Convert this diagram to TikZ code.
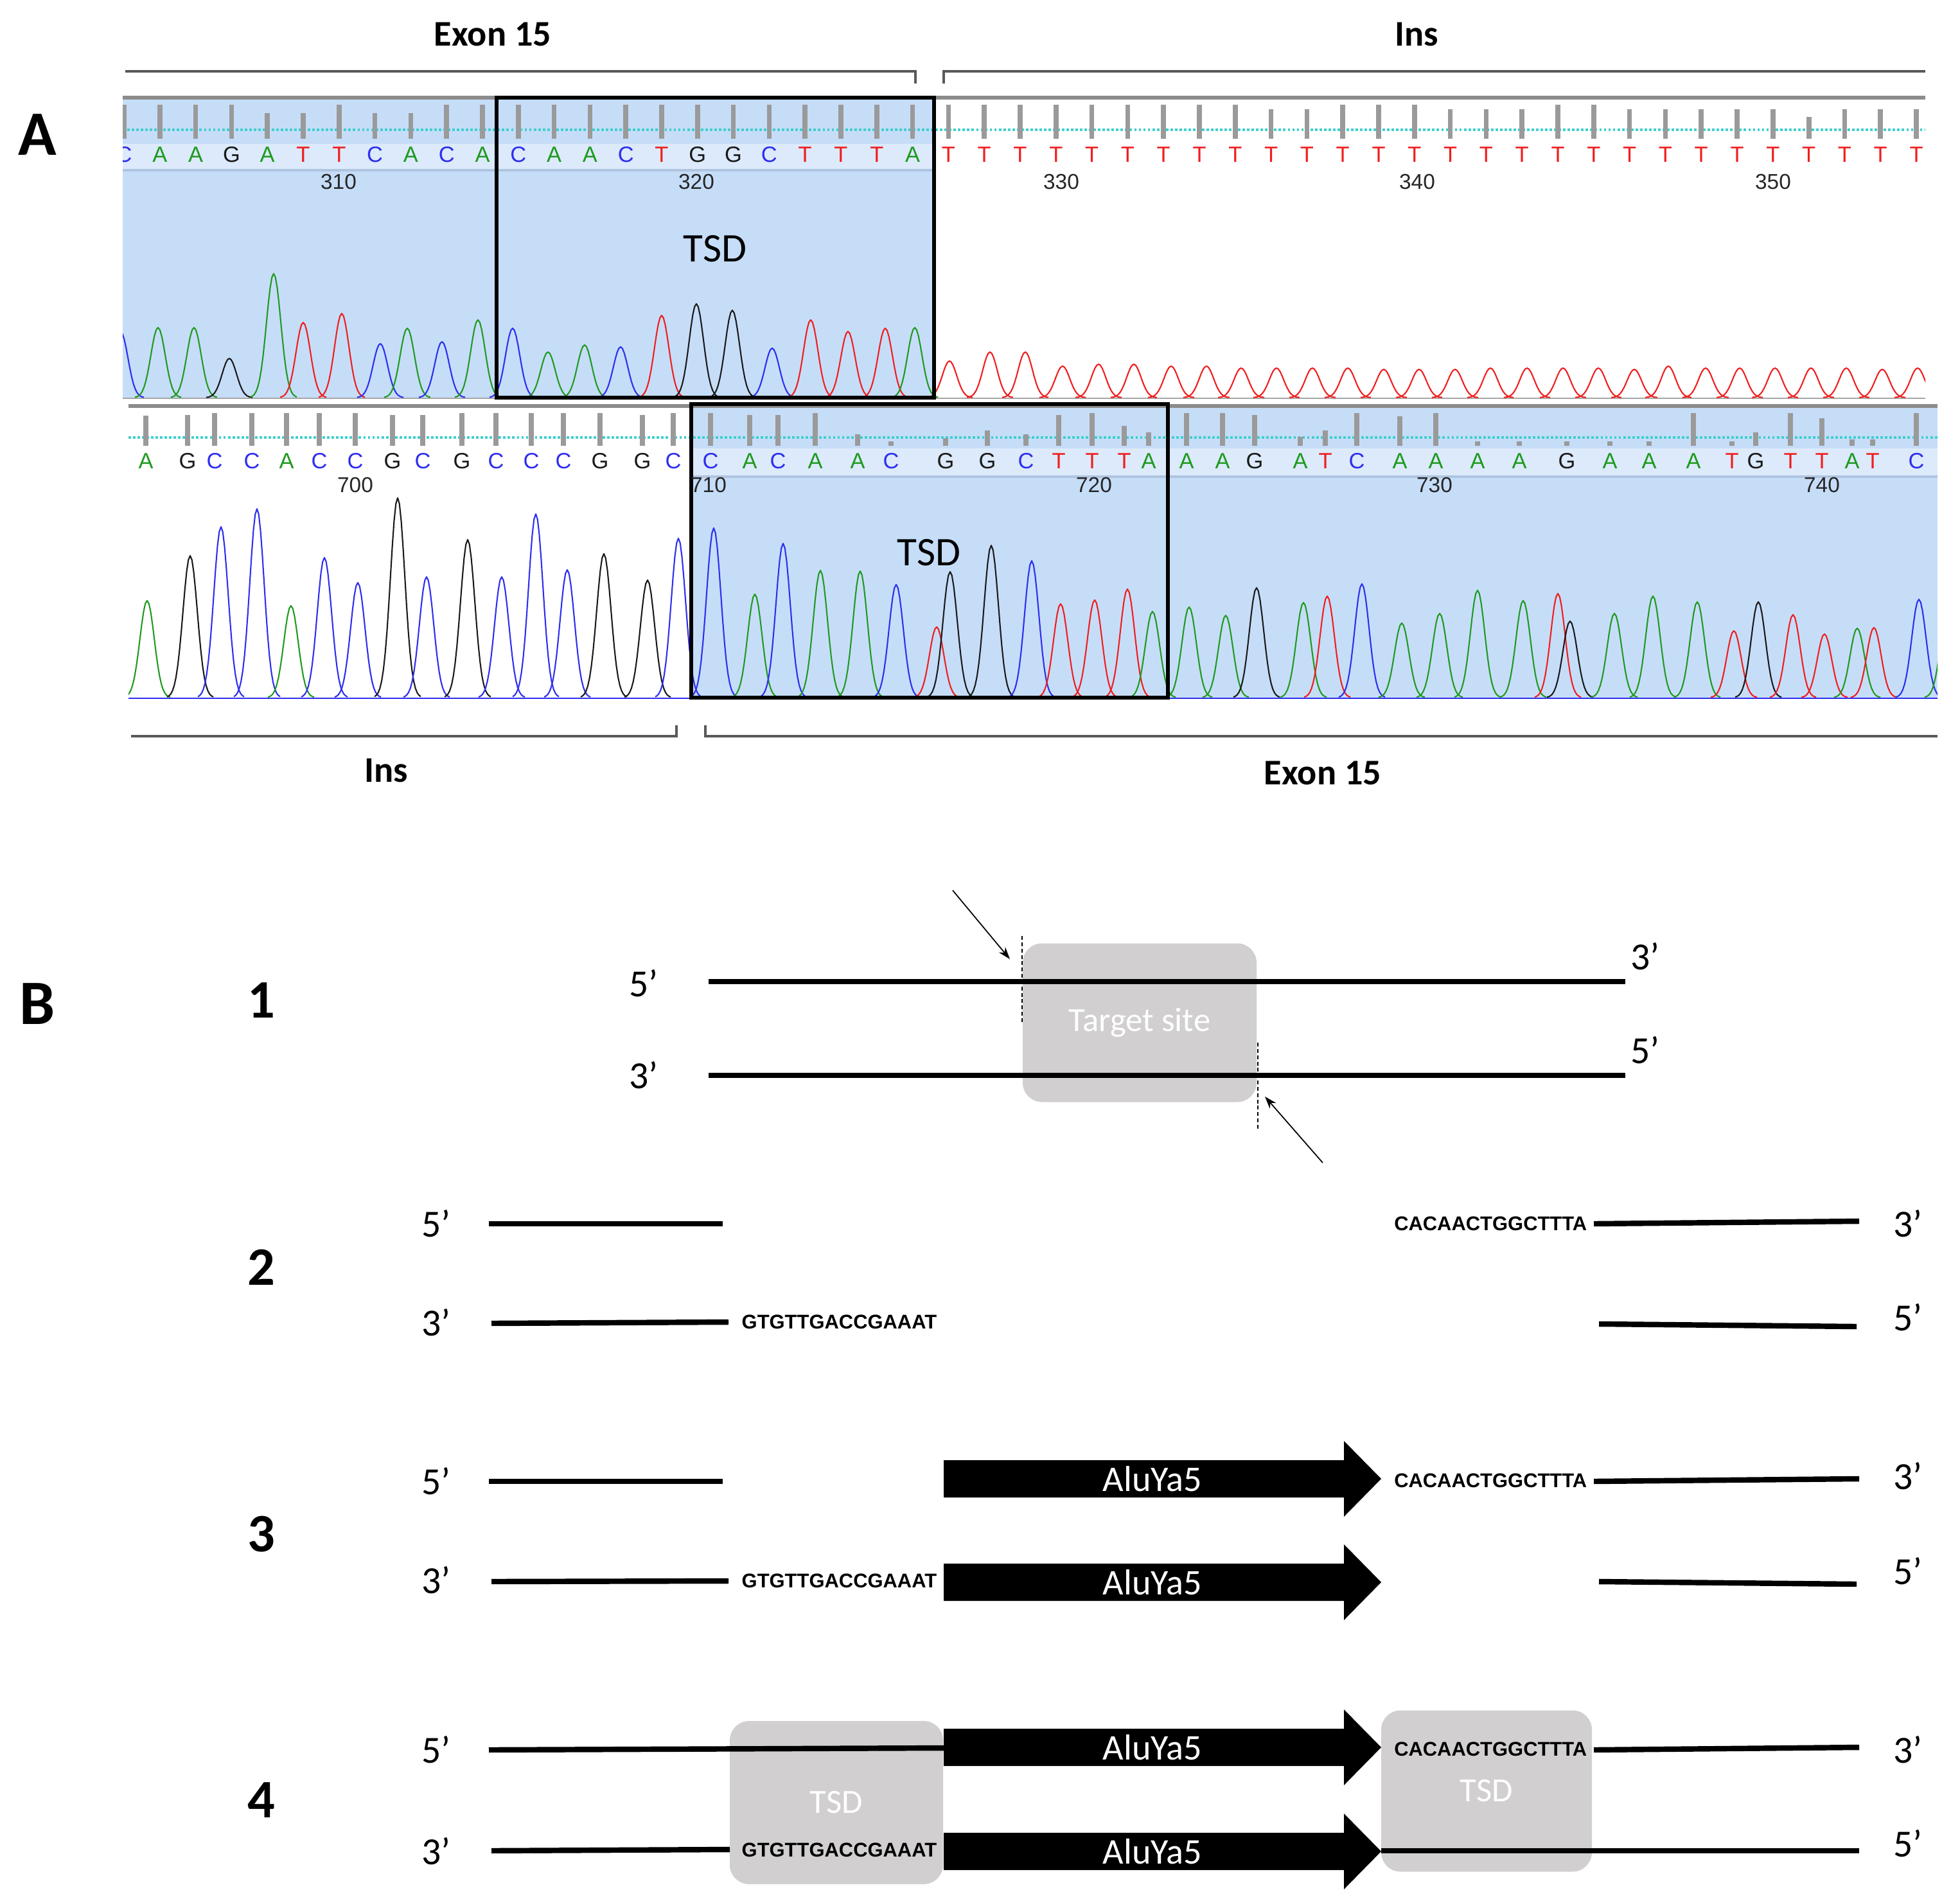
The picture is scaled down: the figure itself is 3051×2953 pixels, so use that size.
\documentclass[tikz,border=0pt]{standalone}
\usepackage{fontspec}
\setmainfont{Carlito}
\newfontfamily\seqfont{Liberation Sans}
\usetikzlibrary{arrows.meta}

\definecolor{baseA}{HTML}{1F9A1F}
\definecolor{baseC}{HTML}{2E2EF0}
\definecolor{baseG}{HTML}{1A1A1A}
\definecolor{baseT}{HTML}{F01E1E}
\definecolor{selblue}{HTML}{C6DDF8}
\definecolor{bandblue}{HTML}{DCEAFB}
\definecolor{bandedgec}{HTML}{AFC4E0}
\definecolor{barGray}{HTML}{9A9A9A}
\definecolor{dotcyan}{HTML}{3FCFCF}
\definecolor{hdrGray}{HTML}{8C8C8C}
\definecolor{boxgray}{HTML}{D1CFD0}

% one gaussian peak: base, centre x, top y, baseline y, 2 sigma^2
\newcommand{\peak}[5]{\draw[trace,draw=base#1] plot[domain=#2-36:#2+36,samples=27] (\x,{#4-(#4-#3)*exp(-((\x-#2)^2)/#5)});}
% AluYa5 block arrow centred on y
\newcommand{\aluarrow}[2]{%
  \fill (1469,{#1-29}) -- (2092,{#1-29}) -- (2092,{#1-59}) -- (2150,#1) -- (2092,{#1+59}) -- (2092,{#1+29}) -- (1469,{#1+29}) -- cycle;
  \node[alu] (#2) at (1794,#1) {AluYa5};}

\tikzset{
  trace/.style={line width=0.6pt, line join=round},
  bar/.style={draw=barGray, line width=2.2pt},
  dotline/.style={draw=dotcyan, line width=1.1pt, dash pattern=on 1.1pt off 0.9pt},
  hdr/.style={draw=hdrGray, line width=1.7pt},
  bandedge/.style={draw=bandedgec, line width=1.4pt},
  call/.style={font=\seqfont\fontsize{9.8}{10}\selectfont, inner sep=0pt},
  posnum/.style={font=\seqfont\fontsize{9.5}{10}\selectfont, text=black!85, inner sep=0pt},
  tsdframe/.style={draw=black, line width=1.5pt},
  tsdtext/.style={font=\fontsize{18}{20}\selectfont},
  region/.style={font=\fontsize{16}{18}\selectfont\bfseries},
  brace/.style={draw=black!65, line width=0.9pt},
  panel/.style={font=\fontsize{28}{30}\selectfont\bfseries},
  stageno/.style={font=\fontsize{24}{26}\selectfont\bfseries},
  endmark/.style={font=\fontsize{17}{19}\selectfont},
  strand/.style={line width=2.4pt},
  seq/.style={font=\seqfont\fontsize{8.8}{10}\selectfont\bfseries, inner sep=0pt},
  graybox/.style={fill=boxgray, rounded corners=3mm, text=white, font=\fontsize{15}{17}\selectfont},
  alu/.style={text=white, font=\fontsize{16}{18}\selectfont},
  cut/.style={dash pattern=on 1.7pt off 1.1pt, line width=0.8pt},
  pointer/.style={-{Stealth[length=1.9mm,width=1.3mm]}, line width=0.5pt}
}

\begin{document}
\begin{tikzpicture}[x=0.1mm,y=-0.1mm]
  \useasboundingbox (0,0) rectangle (3051,2953);
  %%%%% PANEL A %%%%%

  \node[panel] (pA) at (58,210) {A};
  \node[region] (exTop) at (767,53) {Exon 15};
  \node[region] (insTop) at (2205,53) {Ins};
  \draw[brace] (195,111) -- (1425,111) -- (1425,130);
  \draw[brace] (1469,130) -- (1469,111) -- (2997,111);

  % upper trace
  \fill[selblue] (191,155) rectangle (1456,619);
  \fill[bandblue] (191,224) rectangle (1456,263);
  \draw[bandedge] (191,265) -- (1456,265);
  \draw[dotline] (191,202) -- (2997,202);
  \begin{scope}
    \clip (191,140) rectangle (2997,625);
    \foreach \lb/\lh [count=\i from 0] in {C/163,A/163,A/163,G/163,A/176,T/176,T/163,C/176,A/176,C/163,A/163,
        C/163,A/163,A/163,C/163,T/163,G/163,G/163,C/163,T/163,T/163,T/163,A/163,
        T/163,T/163,T/163,T/163,T/163,T/163,T/163,T/163,T/163,T/170,T/170,T/163,T/163,T/163,
        T/170,T/170,T/170,T/163,T/163,T/170,T/170,T/170,T/170,T/170,T/182,T/170,T/170,T/170}{
      \draw[bar] ({193+55.8*\i},216) -- ({193+55.8*\i},\lh);
      \node[call,text=base\lb] (ta\i) at ({193+55.8*\i},241) {\lb};
    }
    \draw[black!35, line width=0.6pt] (191,620) -- (2997,620);
    \foreach \pc/\px/\py in {C/188/517,A/246/510,A/302/510,G/357/558,A/426/426,T/472/502,T/532/488,C/592/535,
        A/634/511,C/688/532,A/744/498,C/798/511,A/853/548,A/910/537,C/966/540,T/1030/491,G/1084/473,
        G/1140/483,C/1202/542,T/1262/498,T/1320/516,T/1378/511,A/1424/510,
        T/1478/562,T/1541/548,T/1596/548,T/1654/570,T/1710/567,T/1765/567,T/1823/570,T/1878/570,
        T/1932/573,T/1987/573,T/2043/573,T/2098/573,T/2154/575,T/2209/575,T/2265/575,T/2320/573,
        T/2377/573,T/2433/573,T/2488/573,T/2544/575,T/2597/570,T/2655/573,T/2708/573,T/2763/573,
        T/2819/573,T/2874/573,T/2930/575,T/2985/573}{
      \peak{\pc}{\px}{\py}{619}{250}
    }
  \end{scope}
  \draw[hdr] (191,152) -- (2997,152);
  \draw[tsdframe] (773,152) rectangle (1454,619);
  \node[tsdtext] (tsdUp) at (1113,387) {TSD};
  \node[posnum] (n310) at (527,283) {310};
  \node[posnum] (n320) at (1084,283) {320};
  \node[posnum] (n330) at (1652,283) {330};
  \node[posnum] (n340) at (2206,283) {340};
  \node[posnum] (n350) at (2760,283) {350};

  % lower trace
  \fill[selblue] (1076,634) rectangle (3016,1088);
  \fill[bandblue] (1076,698) rectangle (3016,740);
  \draw[bandedge] (1076,742) -- (3016,742);
  \draw[dotline] (200,681) -- (3016,681);
  \begin{scope}
    \clip (200,628) rectangle (3016,1092);
    \foreach \lx/\lb/\lh [count=\i] in {227/A/647,292/G/646,334/C/643,392/C/643,446/A/643,497/C/643,553/C/643,
        611/G/646,658/C/646,719/G/643,772/C/643,827/C/643,877/C/643,934/G/643,1000/G/646,1048/C/643,
        1106/C/643,1167/A/646,1211/C/646,1269/A/643,1335/A/676,1387/C/687,1472/G/682,1537/G/670,
        1597/C/676,1648/T/646,1700/T/643,1750/T/663,1788/A/673,1847/A/643,1903/A/643,1953/G/646,
        2024/A/680,2063/T/670,2112/C/643,2179/A/648,2235/A/643,2300/A/687,2365/A/687,2439/G/687,
        2506/A/687,2567/A/687,2636/A/643,2696/T/687,2733/G/673,2787/T/643,2836/T/651,2883/A/684,
        2915/T/684,2983/C/643}{
      \draw[bar] (\lx,694) -- (\lx,\lh);
      \node[call,text=base\lb] (lb\i) at (\lx,718) {\lb};
    }
    \draw[baseC, line width=0.8pt] (200,1087) -- (3016,1087);
    \foreach \pc/\px/\py in {A/229/935,G/296/865,C/344/820,C/400/792,A/453/943,C/505/868,C/557/907,
        G/619/775,C/664/898,G/728/840,C/781/898,C/834/800,C/883/887,G/940/862,G/1008/903,C/1056/838,
        C/1111/822,A/1175/925,C/1219/846,A/1277/888,A/1339/889,C/1395/910,T/1458/976,G/1479/890,
        G/1543/849,C/1606/873,T/1651/940,T/1704/934,T/1755/917,A/1794/952,A/1851/945,A/1908/958,
        G/1956/915,A/2029/938,T/2066/928,C/2120/909,A/2182/970,A/2241/955,A/2300/919,A/2371/935,
        T/2425/924,G/2444/967,A/2513/955,A/2573/928,A/2642/937,T/2699/982,G/2737/937,T/2791/957,
        T/2840/987,A/2891/978,T/2917/977,C/2987/933,A/3032/950}{
      \peak{\pc}{\px}{\py}{1086}{250}
    }
  \end{scope}
  \draw[hdr] (200,632) -- (3016,632);
  \draw[tsdframe] (1076,629) rectangle (1818,1086);
  \node[tsdtext] (tsdLow) at (1446,860) {TSD};
  \node[posnum] (n700) at (553,755) {700};
  \node[posnum] (n710) at (1103,755) {710};
  \node[posnum] (n720) at (1703,755) {720};
  \node[posnum] (n730) at (2233,755) {730};
  \node[posnum] (n740) at (2836,755) {740};

  \draw[brace] (204,1146) -- (1053,1146) -- (1053,1129);
  \draw[brace] (1098,1129) -- (1098,1146) -- (3016,1146);
  \node[region] (insLow) at (601,1199) {Ins};
  \node[region] (exLow) at (2059,1203) {Exon 15};

  %%%%% PANEL B %%%%%

  \node[panel] (pB) at (58,1563) {B};

  % 1: target site
  \node[stageno] (st1) at (407,1557) {1};
  \node[graybox, minimum width=36.4mm, minimum height=24.7mm] (target) at (1774,1592) {Target site};
  \draw[strand] (1103,1528) -- (2530,1528);
  \draw[strand] (1103,1674) -- (2530,1674);
  \node[endmark] (r1a) at (1002,1531) {5’};
  \node[endmark] (r1b) at (1002,1674) {3’};
  \node[endmark] (r1c) at (2561,1489) {3’};
  \node[endmark] (r1d) at (2561,1635) {5’};
  \draw[cut] (1591,1457) -- (1591,1593);
  \draw[cut] (1958,1623) -- (1958,1757);
  \coordinate (nickTop) at (1572,1493);
  \coordinate (nickBot) at (1969,1707);
  \draw[pointer] (1483,1386) -- (nickTop);
  \draw[pointer] (2059,1810) -- (nickBot);

  % 2: staggered cut
  \node[stageno] (st2) at (407,1973) {2};
  \node[endmark] (r2a) at (679,1905) {5’};
  \node[endmark] (r2b) at (679,2059) {3’};
  \node[endmark] (r2c) at (2970,1905) {3’};
  \node[endmark] (r2d) at (2970,2051) {5’};
  \node[seq, anchor=east] (s2top) at (2471,1905) {CACAACTGGCTTTA};
  \node[seq, anchor=west] (s2bot) at (1154,2058) {GTGTTGACCGAAAT};
  \draw[strand] (761,1905) -- (1125,1905);
  \draw[strand] (765,2060) -- (1134,2058);
  \draw[strand] (2481,1905) -- (2894,1901);
  \draw[strand] (2489,2061) -- (2890,2065);

  % 3: insertion
  \node[stageno] (st3) at (407,2388) {3};
  \node[endmark] (r3a) at (679,2306) {5’};
  \node[endmark] (r3b) at (679,2460) {3’};
  \node[endmark] (r3c) at (2970,2298) {3’};
  \node[endmark] (r3d) at (2970,2446) {5’};
  \draw[strand] (761,2306) -- (1125,2306);
  \draw[strand] (765,2462) -- (1134,2461);
  \node[seq, anchor=west] (s3bot) at (1154,2461) {GTGTTGACCGAAAT};
  \aluarrow{2302}{alu3top}
  \aluarrow{2463}{alu3bot}
  \node[seq, anchor=east] (s3top) at (2471,2305) {CACAACTGGCTTTA};
  \draw[strand] (2481,2306) -- (2894,2302);
  \draw[strand] (2489,2462) -- (2890,2466);

  % 4: fill-in, duplicated target site
  \node[stageno] (st4) at (407,2802) {4};
  \node[graybox, minimum width=33.2mm, minimum height=25.4mm] (tsdL) at (1302,2806) {TSD};
  \node[graybox, minimum width=32.8mm, minimum height=25.1mm] (tsdR) at (2314,2788) {TSD};
  \node[endmark] (r4a) at (679,2724) {5’};
  \node[endmark] (r4b) at (679,2882) {3’};
  \node[endmark] (r4c) at (2970,2724) {3’};
  \node[endmark] (r4d) at (2970,2870) {5’};
  \draw[strand] (761,2724) -- (1469,2721);
  \draw[strand] (765,2881) -- (1136,2879);
  \node[seq, anchor=west] (s4bot) at (1154,2880) {GTGTTGACCGAAAT};
  \aluarrow{2720}{alu4top}
  \aluarrow{2882}{alu4bot}
  \node[seq, anchor=east] (s4top) at (2471,2723) {CACAACTGGCTTTA};
  \draw[strand] (2481,2724) -- (2894,2720);
  \draw[strand] (2150,2881) -- (2894,2881);

  %%%%% END %%%%%
\end{tikzpicture}
\end{document}
